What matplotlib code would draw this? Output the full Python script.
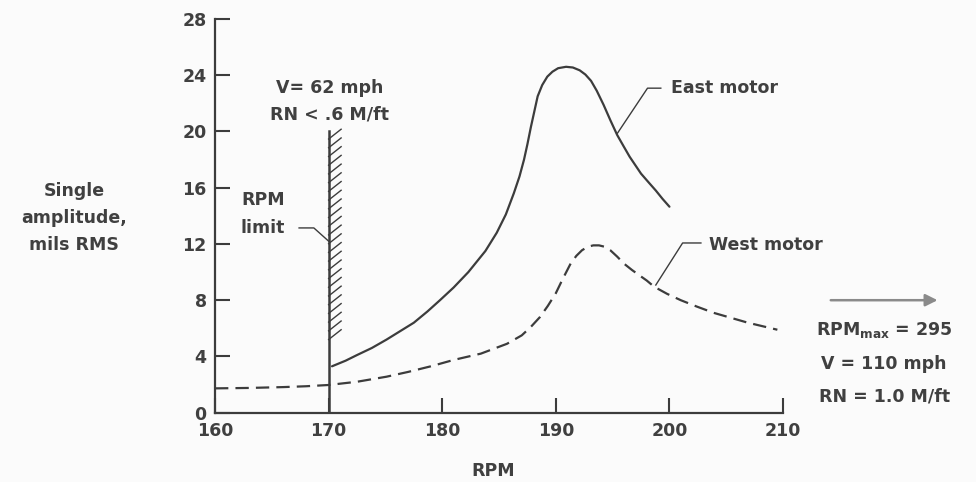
import matplotlib
matplotlib.use("Agg")
import matplotlib.pyplot as plt
import numpy as np

plt.rcParams['font.family'] = ['DejaVu Sans']
plt.rcParams['mathtext.default'] = 'regular'

# ---- data ----
east_rpm = [170.3, 171.5, 172.5, 173.8, 175.1, 176.3, 177.5, 178.7, 179.8, 181.0, 182.3,
            183.8, 184.8, 185.6, 186.3, 186.8, 187.2, 187.5, 187.8, 188.1, 188.4, 188.8,
            189.25, 189.7, 190.2, 190.9, 191.5, 192.1, 192.6, 193.1, 193.6, 194.2, 194.8,
            195.4, 196.0, 196.5, 197.0, 197.5, 198.2, 198.8, 199.4, 200.0]
east_amp = [3.3, 3.7, 4.1, 4.6, 5.2, 5.8, 6.4, 7.2, 8.0, 8.9, 10.0,
            11.5, 12.8, 14.1, 15.6, 16.8, 18.0, 19.1, 20.3, 21.4, 22.5, 23.3,
            23.9, 24.25, 24.5, 24.6, 24.55, 24.35, 24.05, 23.6, 22.9, 21.9, 20.8,
            19.75, 18.9, 18.2, 17.6, 17.0, 16.35, 15.8, 15.2, 14.65]

west_rpm = [160.0, 163.0, 166.0, 168.0, 170.0, 172.5, 175.1, 177.0, 179.0, 181.0, 183.4,
            185.7, 187.0, 187.8, 188.6, 189.3, 190.0, 190.6, 191.3, 191.8, 192.3, 192.8,
            193.3, 193.8, 194.3, 194.8, 195.4, 196.0, 196.7, 197.3, 198.0, 198.65, 199.8,
            201.0, 202.4, 203.9, 205.4, 206.9, 208.2, 209.5]
west_amp = [1.73, 1.76, 1.82, 1.88, 1.97, 2.2, 2.56, 2.9, 3.3, 3.75, 4.2,
            4.9, 5.5, 6.1, 6.8, 7.6, 8.5, 9.5, 10.6, 11.15, 11.55, 11.8,
            11.9, 11.9, 11.8, 11.55, 11.1, 10.6, 10.15, 9.8, 9.4, 8.96, 8.45,
            8.0, 7.55, 7.1, 6.75, 6.4, 6.15, 5.9]

x_ticks = [160, 170, 180, 190, 200, 210]
y_ticks = [0, 4, 8, 12, 16, 20, 24, 28]

rpm_limit = 170
limit_top = 20.0
hatch_bottom = 5.2

INK = '#3c3c3c'
TXT = '#404040'
FS = 12.5

fig = plt.figure(figsize=(9.76, 4.82), dpi=100, facecolor='#fbfbfb')
ax = fig.add_axes([0.2203, 0.1438, 0.582, 0.8168])
ax.set_facecolor('none')
ax.set_xlim(160, 210)
ax.set_ylim(0, 28)

for s in ['top', 'right']:
    ax.spines[s].set_visible(False)
for s in ['left', 'bottom']:
    ax.spines[s].set_color(INK)
    ax.spines[s].set_linewidth(1.6)

ax.set_xticks(x_ticks)
ax.set_yticks(y_ticks)
ax.set_xticklabels([str(v) for v in x_ticks])
ax.set_yticklabels([str(v) for v in y_ticks])
ax.tick_params(axis='both', direction='in', length=11, width=1.5, color=INK,
               labelsize=FS, labelcolor=TXT)
ax.tick_params(axis='y', pad=6)
ax.tick_params(axis='x', pad=7)
for lab in ax.get_xticklabels() + ax.get_yticklabels():
    lab.set_fontweight('bold')

# curves
ax.plot(east_rpm, east_amp, color=INK, lw=1.6, solid_capstyle='round', solid_joinstyle='round')
ax.plot(west_rpm, west_amp, color=INK, lw=1.6, dashes=(6, 3.2), dash_joinstyle='round')

# RPM limit line with hatching
ax.plot([rpm_limit, rpm_limit], [0, limit_top], color=INK, lw=1.8)
hy = np.arange(hatch_bottom, limit_top - 0.3, 0.62)
for y0 in hy:
    ax.plot([rpm_limit, rpm_limit + 1.1], [y0, y0 + 0.7], color=INK, lw=1.0)

kw = dict(fontsize=FS, color=TXT, fontweight='bold')

ax.text(170.1, 23.1, 'V= 62 mph', ha='center', va='center', **kw)
ax.text(170.1, 21.2, 'RN < .6 M/ft', ha='center', va='center', **kw)

ax.text(164.2, 15.1, 'RPM', ha='center', va='center', **kw)
ax.text(164.2, 13.1, 'limit', ha='center', va='center', **kw)
ax.plot([167.4, 168.7, 170.0], [13.14, 13.14, 12.2], color=INK, lw=1.0)

ax.text(200.1, 23.1, 'East motor', ha='left', va='center', **kw)
ax.plot([199.24, 198.07, 195.42], [23.08, 23.08, 19.87], color=INK, lw=1.0)

ax.text(203.5, 11.9, 'West motor', ha='left', va='center', **kw)
ax.plot([202.77, 201.16, 198.8], [12.07, 12.07, 9.08], color=INK, lw=1.0)

ax.annotate('', xy=(223.6, 8.0), xytext=(214.2, 8.0), annotation_clip=False,
            arrowprops=dict(arrowstyle='-|>', color='#8a8a8a', lw=1.8,
                            mutation_scale=18, shrinkA=0, shrinkB=0))

ax.text(218.9, 5.56, r'RPM$_{max}$ = 295', ha='center', va='baseline', clip_on=False, **kw)
ax.text(218.9, 3.14, 'V = 110 mph', ha='center', va='baseline', clip_on=False, **kw)
ax.text(218.9, 0.80, 'RN = 1.0 M/ft', ha='center', va='baseline', clip_on=False, **kw)

ax.set_xlabel('RPM', fontsize=FS, color=TXT, fontweight='bold')
ax.xaxis.set_label_coords(0.489, -0.125)
ax.set_ylabel('Single\namplitude,\nmils RMS', fontsize=FS, color=TXT, fontweight='bold',
              rotation=0, ha='center', va='center', multialignment='center', linespacing=1.65)
ax.yaxis.set_label_coords(-0.248, 0.4945)

fig.savefig('out.png', dpi=100, facecolor=fig.get_facecolor())
